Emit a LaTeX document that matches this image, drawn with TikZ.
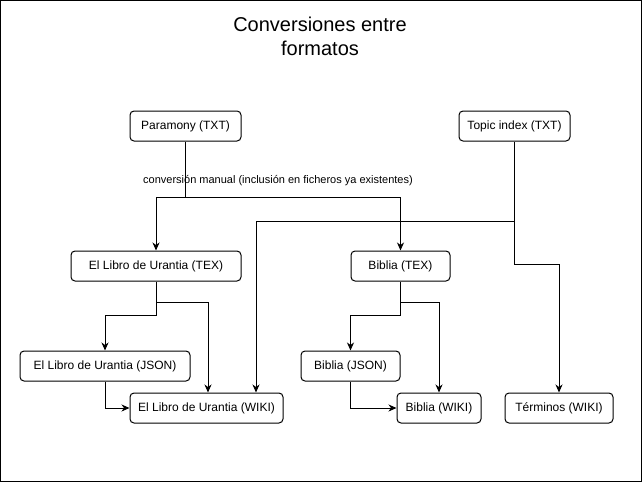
\documentclass[tikz,border=0pt]{standalone}
\usepackage{fontspec}
\setmainfont{Liberation Sans}
\usetikzlibrary{arrows.meta,calc}
\begin{document}
\begin{tikzpicture}[x=1pt,y=-1pt,
  box/.style={draw,line width=1pt,rounded corners=4pt,inner sep=0pt,font=\fontsize{12}{14}\selectfont},
  arr/.style={line width=1pt,-{Stealth[length=8pt,width=7pt,inset=2.5pt]}},
  conn/.style={line width=1pt}]
\useasboundingbox (0,0) rectangle (642,482);
\draw[line width=1pt] (0.5,0.5) rectangle (641.5,481.5);
\node[align=center,font=\fontsize{20}{24}\selectfont] (title) at (320,36) {Conversiones entre\\formatos};
\node[box,minimum width=111pt,minimum height=30pt] (par) at (185.5,126) {Paramony (TXT)};
\node[box,minimum width=111pt,minimum height=30pt] (top) at (514.5,126) {Topic index (TXT)};
\node[box,minimum width=170pt,minimum height=30pt] (ultex) at (156,266) {El Libro de Urantia (TEX)};
\node[box,minimum width=99pt,minimum height=30pt] (btex) at (400.5,266) {Biblia (TEX)};
\node[box,minimum width=170pt,minimum height=30pt] (uljson) at (105,366) {El Libro de Urantia (JSON)};
\node[box,minimum width=153pt,minimum height=30pt] (ulwiki) at (206.5,408) {El Libro de Urantia (WIKI)};
\node[box,minimum width=99pt,minimum height=30pt] (bjson) at (350.5,366) {Biblia (JSON)};
\node[box,minimum width=84pt,minimum height=30pt] (bwiki) at (439,408) {Biblia (WIKI)};
\node[box,minimum width=108pt,minimum height=30pt] (term) at (559,408) {Términos (WIKI)};
% Paramony
\coordinate (pj) at (185.5,197);
\draw[arr] (par.south) -- (pj) -| (ultex.north);
\draw[arr] (pj) -| (btex.north);
\node[font=\fontsize{11}{13}\selectfont,inner sep=1pt] (lab) at (278,181) {conversión manual (inclusión en ficheros ya existentes)};
% Topic index
\coordinate (tj) at (514.5,221);
\coordinate (tk) at (514.5,264);
\draw[arr] (top.south) -- (tj) -| ([xshift=49.5pt]ulwiki.north);
\draw[arr] (tj) -- (tk) -| (term.north);
% Urantia TEX
\coordinate (uj) at (156,302);
\coordinate (uk) at (156,315);
\draw[arr] (ultex.south) -- (uj) -| ([xshift=1.5pt]ulwiki.north);
\draw[arr] (uj) -- (uk) -| (uljson.north);
\draw[arr] (uljson.south) |- (ulwiki.west);
% Biblia TEX
\coordinate (bj) at (400.5,302);
\coordinate (bk) at (400.5,315);
\draw[arr] (btex.south) -- (bj) -| (bwiki.north);
\draw[arr] (bj) -- (bk) -| (bjson.north);
\draw[arr] (bjson.south) |- (bwiki.west);
\end{tikzpicture}
\end{document}
